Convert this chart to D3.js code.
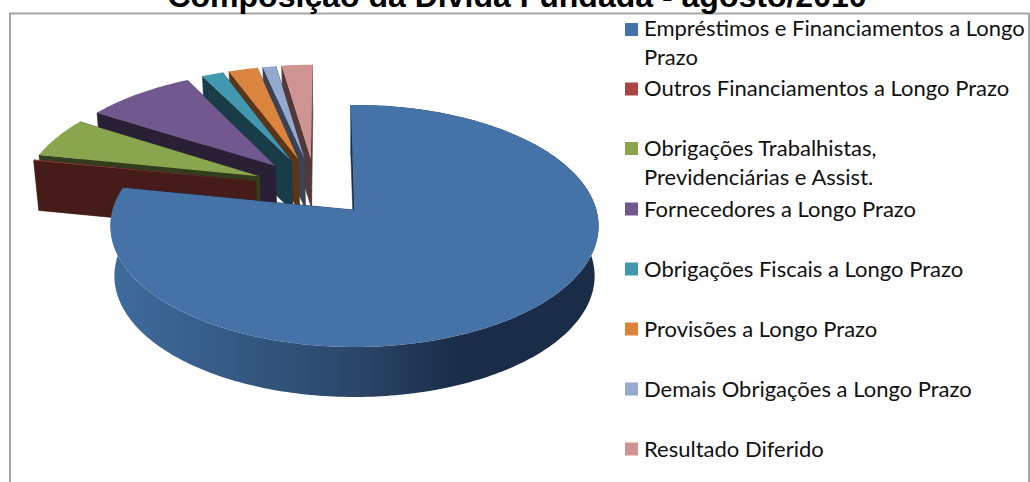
<!DOCTYPE html>
<html><head><meta charset="utf-8">
<script src="https://cdn.jsdelivr.net/npm/d3@7"></script>
<style>html,body{margin:0;padding:0;background:#fff}svg{display:block}</style></head>
<body><div id="c"></div>
<script>
const titleText = "Composição da Dívida Fundada - agosto/2010";
const categories = ["Empréstimos e Financiamentos a Longo Prazo","Outros Financiamentos a Longo Prazo","Obrigações Trabalhistas, Previdenciárias e Assist.","Fornecedores a Longo Prazo","Obrigações Fiscais a Longo Prazo","Provisões a Longo Prazo","Demais Obrigações a Longo Prazo","Resultado Diferido"];
const legendLines = [["Empréstimos e Financiamentos a Longo","Prazo"],["Outros Financiamentos a Longo Prazo"],["Obrigações Trabalhistas,","Previdenciárias e Assist."],["Fornecedores a Longo Prazo"],["Obrigações Fiscais a Longo Prazo"],["Provisões a Longo Prazo"],["Demais Obrigações a Longo Prazo"],["Resultado Diferido"]];
const values = [78.47,0.1,5.7,8.5,1.67,2.28,1.05,2.4];
const colors = ["#4572a7","#aa4643","#89a54e","#71588f","#4198af","#db843d","#93a9cf","#d19392"];
const wallColors = ["#1a2c47","#451c1a","#333d1d","#2a2036","#183d48","#5b3517","#3a4356","#523838"];

const W=1030,H=482;
const svg=d3.select("#c").append("svg").attr("width",W).attr("height",H);
const defs=svg.append("defs");
const g0=defs.append("linearGradient").attr("id","rim").attr("gradientUnits","userSpaceOnUse").attr("x1",115).attr("x2",595).attr("y1",0).attr("y2",0);
[[0,"#3f6b9d"],[0.5,"#2b4769"],[0.72,"#1a2c47"],[1,"#1a2c47"]].forEach(s=>g0.append("stop").attr("offset",s[0]).attr("stop-color",s[1]));

// perspective projection of the pie's unit disk
const k=0.132, D=d3.scaleLinear().domain([0,1]).range([0,241.9]), E=d3.scaleLinear().domain([0,1]).range([0,118.9]);
const apexX=354.5, apexY=210, drop=50, shrink=0.984, shrinkX=355;
function proj(p,bottom){
  const s=1/(1+k*p[1]);
  let x=apexX+D(p[0])*s, y=apexY-E(p[1])*s;
  if(bottom){x=shrinkX+(x-shrinkX)*shrink;y+=drop;}
  return [x,y];
}
const rad=a=>a*Math.PI/180;
const pie=d3.pie().sort(null).startAngle(rad(-1)).endAngle(rad(359));
const arcs=pie(values);
const explode=0.26;
// true pie centre, chosen so that the first slice's apex sits on the projection origin
const m0=(arcs[0].startAngle+arcs[0].endAngle)/2;
const O=[-explode*Math.sin(m0),-explode*Math.cos(m0)];
const line=d3.line();
arcs.forEach(a=>{
  const m=(a.startAngle+a.endAngle)/2;
  a.c=[O[0]+explode*Math.sin(m),O[1]+explode*Math.cos(m)];
  a.rimAt=t=>[a.c[0]+Math.sin(t),a.c[1]+Math.cos(t)];
  const n=Math.max(2,Math.ceil((a.endAngle-a.startAngle)/rad(1)));
  a.rim=d3.range(n+1).map(i=>a.rimAt(a.startAngle+(a.endAngle-a.startAngle)*i/n));
});
function wall(a,p){ // p = rim point of a radial edge
  const q=[proj(a.c,false),proj(p,false),proj(p,true),proj(a.c,true)];
  return line(q)+"Z";
}
const G=svg.append("g");
// painter's order: farthest slice first, main slice last
d3.range(arcs.length-1,-1,-1).forEach(i=>{
  const a=arcs[i];
  if(i===0){
    const top=a.rim.map(p=>proj(p,false)), bot=a.rim.map(p=>proj(p,true)).reverse();
    G.append("path").attr("d",line(top.concat(bot))+"Z").attr("fill","url(#rim)");
  }
  G.append("path").attr("d",wall(a,a.rim[a.rim.length-1])).attr("fill",wallColors[i]).attr("stroke",wallColors[i]).attr("stroke-width",0.5);
  G.append("path").attr("d",wall(a,a.rim[0])).attr("fill",wallColors[i]).attr("stroke",wallColors[i]).attr("stroke-width",0.5);
  const pts=[a.c].concat(a.rim).map(p=>proj(p,false));
  G.append("path").attr("d",line(pts)+"Z").attr("fill",colors[i]);
});

// frame
svg.append("path").attr("d","M10,"+H+"V13.5H1029V"+H).attr("fill","none").attr("stroke","#a6a6a6").attr("stroke-width",2);
// title
svg.append("text").attr("x",517).attr("y",7).attr("text-anchor","middle").attr("font-family","'Liberation Sans',Arial,sans-serif").attr("font-weight","bold").attr("font-size",24*698/523).attr("fill","#000").text(titleText);

// legend
const swY=[29.5,89,148.5,209,269,329,389,449];
const baseY=[[36,65],[96],[156,185],[217],[277],[337],[397],[457]];
const L=svg.append("g");
categories.forEach((c,i)=>{
  L.append("rect").attr("x",625).attr("y",swY[i]-6.5).attr("width",13).attr("height",13).attr("fill",colors[i]);
  legendLines[i].forEach((t,j)=>L.append("text").attr("x",644).attr("y",baseY[i][j]).attr("font-family","Lato,sans-serif").attr("font-size",22).attr("fill","#111").text(t));
});
</script></body></html>
